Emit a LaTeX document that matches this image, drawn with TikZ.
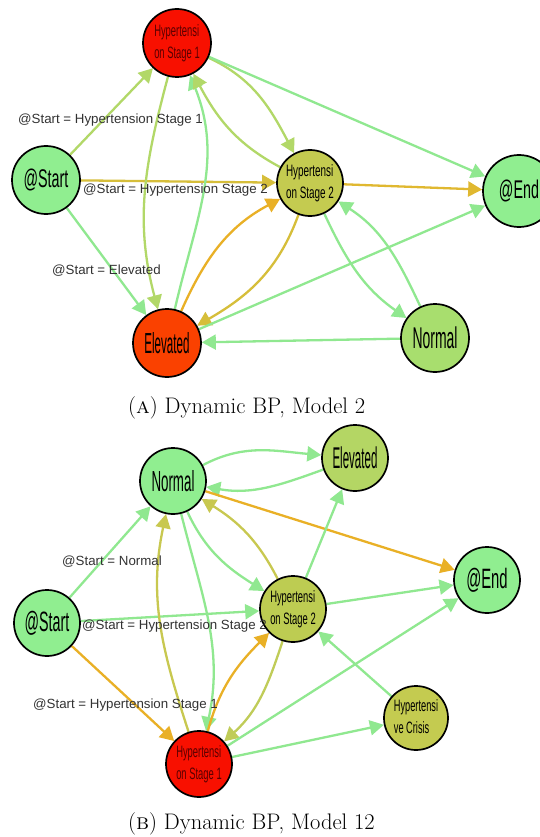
\documentclass[tikz,border=0pt]{standalone}
\usepackage{fontspec}
\newfontfamily\lab{Liberation Sans}
\usetikzlibrary{arrows.meta}

% node fills
\definecolor{nGreen}{HTML}{90EE90}
\definecolor{nLime}{HTML}{A8DE6E}
\definecolor{nLimeB}{HTML}{B4D664}
\definecolor{nOlive}{HTML}{C4CB50}
\definecolor{nOliveB}{HTML}{BDCC52}
\definecolor{nRed}{HTML}{F81000}
\definecolor{nOrange}{HTML}{FA4100}
% connector colours
\definecolor{cGreen}{HTML}{90E890}
\definecolor{cYG}{HTML}{B2D868}
\definecolor{cGold}{HTML}{D6BE3A}
\definecolor{cAmber}{HTML}{E0B830}
\definecolor{cOrange}{HTML}{E9B026}
\definecolor{cOlive}{HTML}{C8C850}
\definecolor{cPale}{HTML}{C0CC58}
\definecolor{labTxt}{HTML}{333333}
\definecolor{redTxt}{HTML}{5A0000}

% squeezed label text inside states
\newcommand\onel[3]{\scalebox{#2}[1]{\fontsize{#1}{#1}\selectfont #3}}
\newcommand\twol[3]{\scalebox{#2}[1]{\fontsize{#1}{22}\selectfont\begin{tabular}{@{}l@{}}#3\end{tabular}}}

\pgfdeclarelayer{back}
\pgfdeclarelayer{edges}
\pgfsetlayers{back,edges,main}

\tikzset{
  st/.style={circle, draw=black, line width=1.7pt, inner sep=0pt,
             minimum size=67pt, font=\lab, align=left},
  conn/.style={line width=2.3pt, -{Triangle[length=14pt,width=15pt]}},
  elab/.style={font=\lab\fontsize{13.3}{15}\selectfont, text=labTxt,
               inner sep=0pt, anchor=west},
  captext/.style={inner sep=0pt, anchor=base west, font=\fontsize{22.5}{26}\selectfont}
}

\begin{document}
\begin{tikzpicture}[x=1pt,y=1pt]
\useasboundingbox (0,0) rectangle (540,-837);
\begin{pgfonlayer}{back}
  \fill[white] (0,0) rectangle (540,-837);
\end{pgfonlayer}

% ---------- Model 2 ----------
\node[st, fill=nRed, minimum size=68pt, text=redTxt] (H1a) at (177,-43)
  {\twol{16.5}{0.57}{Hypertensi\\on Stage 1}};
\node[st, fill=nGreen, minimum size=68pt] (Sa) at (46,-180) {\onel{25.6}{0.56}{@Start}};
\node[st, fill=nOlive, minimum size=66pt] (H2a) at (310,-183)
  {\twol{16.5}{0.6}{Hypertensi\\on Stage 2}};
\node[st, fill=nGreen, minimum size=72pt] (Ea) at (519,-191) {\onel{25.6}{0.56}{@End}};
\node[st, fill=nOrange, minimum size=68pt] (Ela) at (167,-343) {\onel{29}{0.40}{Elevated}};
\node[st, fill=nLime, minimum size=68pt] (Na) at (435,-338) {\onel{30}{0.465}{Normal}};

\node[elab] (la1) at (18,-120) {@Start = Hypertension Stage 1};
\node[elab] (la2) at (83,-190) {@Start = Hypertension Stage 2};
\node[elab] (la3) at (52,-271) {@Start = Elevated};

\begin{pgfonlayer}{edges}
  \draw[conn, cYG] (Sa) -- (H1a);
  \draw[conn, cGold] (Sa) -- (H2a);
  \draw[conn, cGreen] (Sa) -- (Ela);
  \draw[conn, cYG] (H1a) to[out=255, in=105] (Ela);
  \draw[conn, cGreen] (Ela) to[out=77, in=292] (H1a);
  \draw[conn, cYG] (H1a) to[out=-25, in=118] (H2a);
  \draw[conn, cYG] (H2a) to[out=152, in=-62] (H1a);
  \draw[conn, cGreen] (H1a) -- (Ea);
  \draw[conn, cAmber] (H2a) -- (Ea);
  \draw[conn, cOrange] (Ela) to[out=66, in=208] (H2a);
  \draw[conn, cGold] (H2a) to[out=-110, in=30] (Ela);
  \draw[conn, cGreen] (Ela) -- (Ea);
  \draw[conn, cGreen] (Na) -- (Ela);
  \draw[conn, cGreen] (H2a) to[out=-65, in=145] (Na);
  \draw[conn, cGreen] (Na) to[out=115, in=-33] (H2a);
\end{pgfonlayer}

\node[captext] (capA) at (128,-413) {(\textsc{a}) Dynamic BP, Model 2};

% ---------- Model 12 ----------
\node[st, fill=nGreen, minimum size=66pt] (Nb) at (173,-481) {\onel{29}{0.46}{Normal}};
\node[st, fill=nLimeB, minimum size=66pt] (Elb) at (355,-458) {\onel{30}{0.385}{Elevated}};
\node[st, fill=nGreen, minimum size=66pt] (Eb) at (487,-580) {\onel{28}{0.53}{@End}};
\node[st, fill=nGreen, minimum size=66pt] (Sb) at (47,-623) {\onel{28}{0.51}{@Start}};
\node[st, fill=nOliveB, minimum size=66pt] (H2b) at (293,-609)
  {\twol{16.5}{0.57}{Hypertensi\\on Stage 2}};
\node[st, fill=nOlive, minimum size=64pt] (Cb) at (416,-718)
  {\twol{16.5}{0.56}{Hypertensi\\ve Crisis}};
\node[st, fill=nRed, minimum size=66pt, text=redTxt] (H1b) at (199,-764)
  {\twol{16.5}{0.57}{Hypertensi\\on Stage 1}};

\node[elab] (lb1) at (62,-562) {@Start = Normal};
\node[elab] (lb2) at (82,-626) {@Start = Hypertension Stage 2};
\node[elab] (lb3) at (33,-705) {@Start = Hypertension Stage 1};

\begin{pgfonlayer}{edges}
  \draw[conn, cGreen] (Sb) -- (Nb);
  \draw[conn, cGreen] (Sb) -- (H2b);
  \draw[conn, cOrange] (Sb) -- (H1b);
  \draw[conn, cOlive] (H1b) to[out=108, in=258] (Nb);
  \draw[conn, cGreen] (Nb) to[out=-76, in=78] (H1b);
  \draw[conn, cGreen] (Nb) to[out=-65, in=148] (H2b);
  \draw[conn, cOlive] (H2b) to[out=117, in=-32] (Nb);
  \draw[conn, cGreen] (Nb) to[out=28, in=175] (Elb);
  \draw[conn, cGreen] (Elb) to[out=200, in=350] (Nb);
  \draw[conn, cOrange] (Nb) -- (Eb);
  \draw[conn, cGreen] (H2b) -- (Elb);
  \draw[conn, cGreen] (H2b) -- (Eb);
  \draw[conn, cOrange] (H1b) to[out=75, in=225] (H2b);
  \draw[conn, cPale] (H2b) to[out=-108, in=42] (H1b);
  \draw[conn, cGreen] (H1b) -- (Cb);
  \draw[conn, cGreen] (H1b) -- (Eb);
  \draw[conn, cGreen] (Cb) -- (H2b);
\end{pgfonlayer}

\node[captext] (capB) at (128,-829) {(\textsc{b}) Dynamic BP, Model 12};
\end{tikzpicture}
\end{document}
